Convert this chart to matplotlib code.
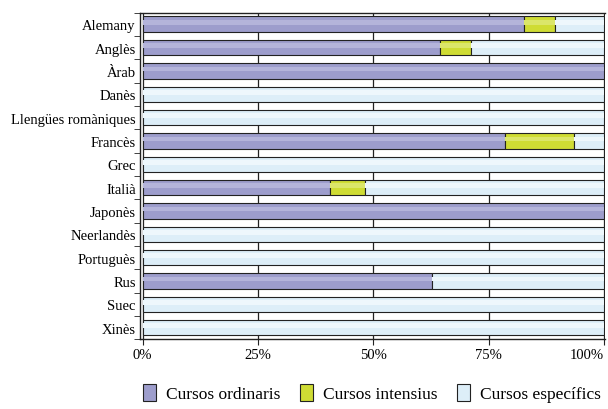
import numpy as np
import matplotlib.pyplot as plt

plt.rcParams['font.family'] = ['Liberation Serif', 'DejaVu Serif']

# Data (percent of courses per language)
languages = ["Alemany", "Anglès", "Àrab", "Danès", "Llengües romàniques", "Francès",
             "Grec", "Italià", "Japonès", "Neerlandès", "Portuguès", "Rus", "Suec", "Xinès"]
ordinaris = [82.6, 64.4, 100, 0, 0, 78.6, 0, 40.7, 100, 0, 0, 62.8, 0, 0]
intensius = [6.7, 6.7, 0, 0, 0, 14.9, 0, 7.4, 0, 0, 0, 0, 0, 0]
especifics = [10.7, 28.9, 0, 100, 100, 6.5, 100, 51.9, 0, 100, 100, 37.2, 100, 100]
series_names = ["Cursos ordinaris", "Cursos intensius", "Cursos específics"]
colors = ["#9d9dcc", "#cfdc34", "#ddeef8"]
highlights = ["#b4b4da", "#dbe66a", "#eef7fc"]

fig = plt.figure(figsize=(6.08, 4.10), dpi=100)
ax = fig.add_axes([0.230, 0.170, 0.765, 0.797])

y = np.arange(len(languages))
h = 0.66
left = np.zeros(len(languages))
handles = []
for vals, c, hc, name in zip([ordinaris, intensius, especifics], colors, highlights, series_names):
    vals = np.array(vals, dtype=float)
    b = ax.barh(y, vals, left=left, height=h, color=c, edgecolor="#222222",
                linewidth=np.where(vals > 0, 0.8, 0), zorder=3, label=name)
    # lighter upper stripe for the cylinder look
    ax.barh(y - h * 0.12, vals, left=left, height=h * 0.3, color=hc,
            linewidth=0, zorder=4)
    handles.append(b)
    left += vals

ax.set_xlim(-0.6, 100.2)
ax.set_ylim(len(languages) - 0.5, -0.5)
ax.set_yticks(y)
ax.set_yticklabels(languages, fontsize=10.5)
ax.tick_params(axis='y', length=0, pad=3)
ax.set_yticks(np.arange(-0.5, len(languages)), minor=True)
ax.tick_params(axis='y', which='minor', length=4, direction='out', color='#222222')

ax.set_xticks([0, 25, 50, 75, 100])
ax.set_xticklabels(["0%", "25%", "50%", "75%", "100%"], fontsize=10.5)
ax.get_xticklabels()[-1].set_horizontalalignment('right')
ax.tick_params(axis='x', length=4, direction='out', color='#222222', pad=2)
ax.xaxis.grid(True, color="#222222", linewidth=0.9, zorder=0)

for s in ['top', 'left', 'bottom']:
    ax.spines[s].set_color("#222222")
    ax.spines[s].set_linewidth(1.0)
ax.spines['right'].set_visible(False)

leg = fig.legend(handles=handles, labels=series_names, loc="lower center",
                 bbox_to_anchor=(0.612, -0.022), ncol=3, frameon=False, fontsize=12.5,
                 handlelength=0.75, handleheight=1.1, handletextpad=0.6, columnspacing=1.1)
for p in leg.get_patches():
    p.set_linewidth(0.8)

fig.savefig("out.png", dpi=100)
